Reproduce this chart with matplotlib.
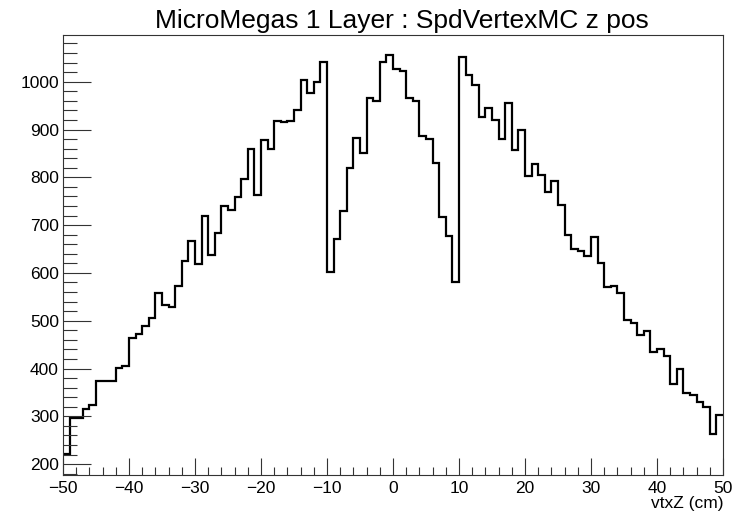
import numpy as np
import matplotlib.pyplot as plt
from matplotlib.ticker import MultipleLocator

# --- adatok: vtxZ hisztogram, 100 bin -50..50 cm ---
bin_lo, bin_hi, n_bins = -50, 50, 100
counts = [
    222, 297, 297, 316, 323, 373, 373, 373, 401, 405,
    464, 472, 490, 505, 557, 533, 529, 573, 625, 667,
    618, 719, 638, 684, 741, 731, 759, 797, 859, 764,
    878, 860, 917, 915, 917, 940, 1003, 976, 1000, 1042,
    601, 672, 729, 820, 882, 851, 966, 959, 1042, 1056,
    1026, 1022, 965, 960, 887, 881, 831, 718, 677, 582,
    1052, 1015, 994, 927, 944, 919, 881, 955, 857, 900,
    803, 828, 805, 770, 792, 742, 679, 651, 646, 636,
    675, 621, 571, 573, 559, 502, 496, 471, 478, 435,
    441, 427, 367, 398, 349, 344, 331, 319, 263, 303,
]
title = "MicroMegas 1 Layer : SpdVertexMC z pos"
xlabel = "vtxZ (cm)"

plt.rcParams['font.family'] = ['Liberation Sans', 'DejaVu Sans']

fig = plt.figure(figsize=(7.47, 5.15), dpi=100)
ax = fig.add_axes([0.0843, 0.0777, 0.8837, 0.8543])

edges = np.linspace(bin_lo, bin_hi, n_bins + 1)
ax.stairs(counts, edges, color='black', linewidth=1.6, baseline=None)

ax.set_xlim(bin_lo, bin_hi)
ymin, ymax = min(counts), max(counts)
pad = 0.05 * (ymax - ymin)
ax.set_ylim(ymin - pad - 3, ymax + pad)

ax.xaxis.set_major_locator(MultipleLocator(10))
ax.xaxis.set_minor_locator(MultipleLocator(2))
ax.yaxis.set_major_locator(MultipleLocator(100))
ax.yaxis.set_minor_locator(MultipleLocator(20))
ax.tick_params(which='both', direction='in', top=False, right=False,
               labelsize=12.5, width=0.8, color='#333333')
ax.tick_params(axis='y', which='major', length=20, pad=3)
ax.tick_params(axis='y', which='minor', length=10)
ax.tick_params(axis='x', which='major', length=12, pad=4)
ax.tick_params(axis='x', which='minor', length=6)
for sp in ax.spines.values():
    sp.set_linewidth(0.8)
    sp.set_color('#333333')

ax.set_title(title, fontsize=19, pad=5, x=0.513)
ax.set_xlabel(xlabel, fontsize=12.5, loc='right', labelpad=0)

plt.savefig('out.png', dpi=100)
